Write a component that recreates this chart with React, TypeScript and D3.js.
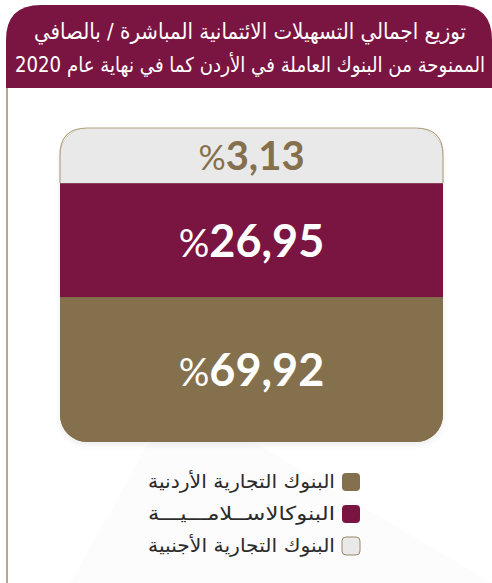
import React from "react";
import * as d3 from "d3";

const categories = ["البنوك التجارية الأجنبية", "البنوكالاســلامـــيـــة", "البنوك التجارية الأردنية"];
const values = [3.13, 26.95, 69.92];
const labels = ["3,13", "26,95", "69,92"];
const fills = ["#e9e9e9", "#7a1441", "#85704d"];
const textColors = ["#85704d", "#ffffff", "#ffffff"];
const legendOrder = [2, 1, 0];
const titleLines = [
  "توزيع اجمالي التسهيلات الائتمانية المباشرة / بالصافي",
  "الممنوحة من البنوك العاملة في الأردن كما في نهاية عام 2020",
];
const titleWidths = [432, 470];
const titleSizes = [22, 20.5];
const legendWidths = [187, 187, 187];

const W = 492;
const H = 583;

export default function App() {
  const boxX0 = 60, boxX1 = 443, boxY0 = 128, boxY1 = 442, r = 27;
  const weights = values.map((v) => Math.log(2 + v));
  const cum = [0];
  weights.forEach((w) => cum.push(cum[cum.length - 1] + w));
  const y = d3.scaleLinear().domain([0, cum[cum.length - 1]]).range([boxY0, boxY1]);
  const cx = (boxX0 + boxX1) / 2;
  const fontSizes = [40, 45, 45];

  const grayBottom = y(cum[1]);
  const grayPath = `M${boxX0},${grayBottom} L${boxX0},${boxY0 + r} Q${boxX0},${boxY0} ${boxX0 + r},${boxY0} L${boxX1 - r},${boxY0} Q${boxX1},${boxY0} ${boxX1},${boxY0 + r} L${boxX1},${grayBottom}`;

  return (
    <svg width={W} height={H} style={{ position: "absolute", left: 0, top: 0 }}>
      <rect x={0} y={0} width={W} height={H} fill="#ffffff" />
      <polygon points="70,583 175,396 492,583" fill="#fcfcfc" />
      <line x1={7} y1={86} x2={7} y2={H} stroke="#b9a888" strokeWidth={2} />
      <path d={`M6,88 L6,40 Q6,5 41,5 L457,5 Q492,5 492,40 L492,88 Z`} fill="#7a1441" />
      {titleLines.map((t, i) => (
        <text
          key={i}
          x={250}
          y={39 + i * 33}
          textAnchor="middle"
          fill="#ffffff"
          fontFamily="'DejaVu Sans Condensed', 'DejaVu Sans', sans-serif"
          fontSize={titleSizes[i]}
          direction="rtl"
          textLength={titleWidths[i]}
          lengthAdjust="spacingAndGlyphs"
        >
          {t}
        </text>
      ))}
      <defs>
        <clipPath id="boxclip">
          <rect x={boxX0} y={boxY0} width={boxX1 - boxX0} height={boxY1 - boxY0} rx={r} ry={r} />
        </clipPath>
        <filter id="sh" x="-10%" y="-10%" width="120%" height="130%">
          <feDropShadow dx={0} dy={3} stdDeviation={3} floodColor="#000" floodOpacity={0.07} />
        </filter>
      </defs>
      <rect x={boxX0} y={boxY0} width={boxX1 - boxX0} height={boxY1 - boxY0} rx={r} ry={r} fill="#85704d" filter="url(#sh)" />
      <g clipPath="url(#boxclip)">
        {values.map((v, i) => (
          <rect key={i} x={boxX0} y={y(cum[i])} width={boxX1 - boxX0} height={y(cum[i + 1]) - y(cum[i])} fill={fills[i]} />
        ))}
      </g>
      <path d={grayPath} fill="none" stroke="#b5a382" strokeWidth={1.2} />
      {values.map((v, i) => {
        const my = (y(cum[i]) + y(cum[i + 1])) / 2;
        return (
          <text
            key={i}
            x={cx}
            y={my + fontSizes[i] * 0.36}
            textAnchor="middle"
            fill={textColors[i]}
            fontFamily="Lato, 'Noto Sans', sans-serif"
            fontSize={fontSizes[i]}
          >
            <tspan fontWeight={400} fontSize={fontSizes[i] * 0.85}>%</tspan>
            <tspan fontWeight={700}>{labels[i]}</tspan>
          </text>
        );
      })}
      {legendOrder.map((idx, k) => {
        const ly = 482 + k * 32;
        return (
          <g key={k}>
            <rect
              x={342}
              y={ly - 9}
              width={18}
              height={18}
              rx={4}
              fill={fills[idx]}
              stroke={idx === 0 ? "#9c8866" : "none"}
              strokeWidth={1}
            />
            <text
              x={335}
              y={ly + 6}
              textAnchor="start"
              direction="rtl"
              fill="#2a2a2a"
              fontFamily="'DejaVu Sans Condensed', 'DejaVu Sans', sans-serif"
              fontSize={19}
              textLength={legendWidths[k]}
              lengthAdjust="spacingAndGlyphs"
            >
              {categories[idx]}
            </text>
          </g>
        );
      })}
    </svg>
  );
}
